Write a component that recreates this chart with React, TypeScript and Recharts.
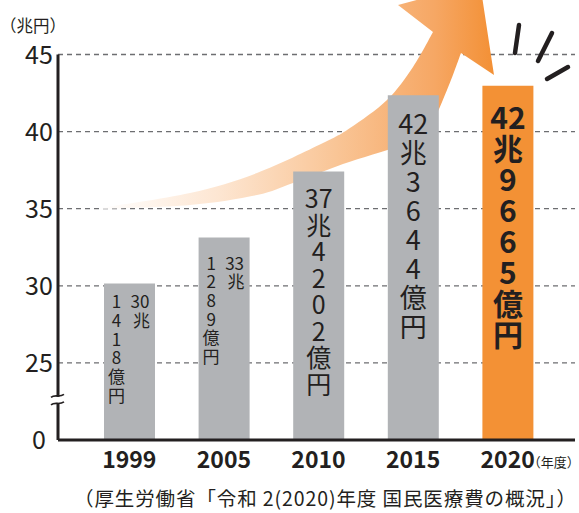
import React from 'react';
import { BarChart, Bar, XAxis, YAxis, CartesianGrid, LabelList, Cell, Customized } from 'recharts';

// ---- data ----
const years = ['1999', '2005', '2010', '2015', '2020'];
const totals = [30.1418, 33.1289, 37.4202, 42.3644, 42.9665]; // 兆円
const trillionParts = ['30', '33', '37', '42', '42'];
const billionParts = ['1418', '1289', '4202', '3644', '9665'];
const yTickLabels = [0, 25, 30, 35, 40, 45];

// broken axis: values from 25 upward are drawn shifted down by this amount
const AXIS_SHIFT = 20;
const BREAK_AT = 2.6;

const toPlot = (v: number) => (v === 0 ? 0 : v - AXIS_SHIFT);
const data = years.map((y, i) => ({ year: y, plot: toPlot(totals[i]), idx: i }));
const plotTicks = yTickLabels.map(toPlot);

const W = 579;
const H = 513;
const INK = '#231f20';
const GRAY = '#b1b3b6';
const ORANGE = '#f39135';
const JP = '"Noto Sans CJK JP", "Noto Sans", sans-serif';

const YTick = (props: any) => {
  const { x, y, payload } = props;
  const v = payload.value;
  if (v === BREAK_AT) {
    return (
      <g>
        <rect x={x - 6} y={y - 3} width={12} height={6} fill="#fff" />
        <path d={`M ${x - 7} ${y - 2.5} C ${x - 3} ${y - 6}, ${x + 1} ${y - 2}, ${x + 6} ${y - 5.5}`} stroke={INK} strokeWidth={1.6} fill="none" />
        <path d={`M ${x - 7} ${y + 5} C ${x - 3} ${y + 1.5}, ${x + 1} ${y + 5.5}, ${x + 6} ${y + 2}`} stroke={INK} strokeWidth={1.6} fill="none" />
      </g>
    );
  }
  const label = v === 0 ? '0' : String(v + AXIS_SHIFT);
  return (
    <text x={x - 19} y={y + 9} textAnchor="middle" fontSize={25} fill={INK} fontFamily={JP}>
      {label}
    </text>
  );
};

const XTick = (props: any) => {
  const { x, y, payload } = props;
  const isLast = payload.value === years[years.length - 1];
  return (
    <g>
      <text x={x} y={y + 28} textAnchor="middle" fontSize={23} fontWeight={700} fill={INK} fontFamily={JP}>
        {payload.value}
      </text>
      {isLast && (
        <text x={x + 20} y={y + 27} textAnchor="start" fontSize={13} fill={INK} fontFamily={JP}>
          （年度）
        </text>
      )}
    </g>
  );
};

const Column = ({ x, y, chars, pitch }: { x: number; y: number; chars: string[]; pitch: number }) => (
  <text x={x} y={y} textAnchor="middle" dominantBaseline="central">
    {chars.map((c, k) => (
      <tspan key={k} x={x} y={y + k * pitch}>
        {c}
      </tspan>
    ))}
  </text>
);

const BarText = (props: any) => {
  const { x, y, width, index } = props;
  const i = typeof index === 'number' ? index : Number(props.value);
  const cx = x + width / 2;
  const tr = trillionParts[i];
  const bl = billionParts[i].split('');
  if (i < 2) {
    const pitch = 18.7;
    const first = y + (i === 0 ? 16.5 : 24);
    return (
      <g fontFamily={JP} fontSize={17} fill={INK}>
        <Column x={cx - 13} y={first} chars={[...bl, '億', '円']} pitch={pitch} />
        <text x={cx + 11} y={first} textAnchor="middle" dominantBaseline="central">
          <tspan x={cx + 10.5} y={first}>{tr}</tspan>
          <tspan x={cx + 12} y={first + pitch}>兆</tspan>
        </text>
      </g>
    );
  }
  const cfg =
    i === 2 ? { fs: 25, pitch: 26.5, off: 26, fw: 400 } :
    i === 3 ? { fs: 27, pitch: 29, off: 26.5, fw: 400 } :
    { fs: 30, pitch: 31, off: 30, fw: 700 };
  return (
    <g fontFamily={JP} fontSize={cfg.fs} fontWeight={cfg.fw} fill={INK}>
      <Column x={cx} y={y + cfg.off} chars={[tr, '兆', ...bl, '億', '円']} pitch={cfg.pitch} />
    </g>
  );
};

// smooth path through points (Catmull-Rom -> Bezier)
const smooth = (pts: number[][]) => {
  let d = '';
  for (let k = 0; k < pts.length - 1; k++) {
    const p0 = pts[k - 1] || pts[k];
    const p1 = pts[k];
    const p2 = pts[k + 1];
    const p3 = pts[k + 2] || p2;
    const c1 = [p1[0] + (p2[0] - p0[0]) / 6, p1[1] + (p2[1] - p0[1]) / 6];
    const c2 = [p2[0] - (p3[0] - p1[0]) / 6, p2[1] - (p3[1] - p1[1]) / 6];
    d += ` C ${c1[0]} ${c1[1]}, ${c2[0]} ${c2[1]}, ${p2[0]} ${p2[1]}`;
  }
  return d;
};

const upperEdge = [[100, 208], [190, 193], [257, 173], [323, 143], [350, 128], [387, 100], [413, 67], [433, 32]];
const lowerEdge = [[461, 53], [447, 90], [430, 124], [400, 145], [343, 164], [293, 183], [257, 195], [190, 205], [100, 209]];

const Arrow = () => {
  const d =
    `M ${upperEdge[0][0]} ${upperEdge[0][1]}` +
    smooth(upperEdge) +
    ' L 398 5 L 480 -17 L 494 75 L 461 53' +
    smooth(lowerEdge) +
    ' Z';
  return (
    <g>
      <defs>
        <linearGradient id="arrowGrad" gradientUnits="userSpaceOnUse" x1={100} y1={0} x2={494} y2={0}>
          <stop offset="0" stopColor="#ffffff" />
          <stop offset="0.3" stopColor="#fde6d2" />
          <stop offset="0.6" stopColor="#f9c596" />
          <stop offset="0.85" stopColor="#f6a764" />
          <stop offset="1" stopColor="#f39035" />
        </linearGradient>
      </defs>
      <path d={d} fill="url(#arrowGrad)" />
      <g stroke={INK} strokeWidth={4.5} strokeLinecap="round">
        <line x1={519} y1={25} x2={515} y2={53} />
        <line x1={552} y1={33} x2={538} y2={61} />
        <line x1={568} y1={67} x2={547} y2={79} />
      </g>
    </g>
  );
};

export default function App() {
  return (
    <div style={{ position: 'absolute', left: 0, top: 0, width: W, height: H, background: '#fff' }}>
      <BarChart
        width={W}
        height={H}
        data={data}
        margin={{ top: 54.5, right: 4, bottom: 33, left: 0 }}
        barCategoryGap={0}
      >
        <CartesianGrid
          vertical={false}
          horizontalValues={plotTicks}
          stroke="#6d6e71"
          strokeWidth={1.3}
          strokeDasharray="5 4"
        />
        <Customized component={<Arrow />} />
        <XAxis
          dataKey="year"
          height={40}
          padding={{ left: 24, right: 20 }}
          axisLine={{ stroke: INK, strokeWidth: 3 }}
          tickLine={false}
          tickSize={0}
          tickMargin={0}
          tick={<XTick />}
          interval={0}
        />
        <YAxis
          type="number"
          width={58}
          domain={[0, 25]}
          ticks={[...plotTicks, BREAK_AT]}
          interval={0}
          axisLine={{ stroke: INK, strokeWidth: 3 }}
          tickLine={false}
          tickSize={0}
          tickMargin={0}
          tick={<YTick />}
          allowDataOverflow
        />
        <Bar dataKey="plot" barSize={51} isAnimationActive={false}>
          {data.map((d, i) => (
            <Cell key={d.year} fill={i === data.length - 1 ? ORANGE : GRAY} />
          ))}
          <LabelList dataKey="idx" content={<BarText />} />
        </Bar>
      </BarChart>
      <div
        style={{
          position: 'absolute', left: 0, top: 13, fontFamily: JP, fontSize: 16.5, color: INK, lineHeight: '24px', whiteSpace: 'nowrap',
        }}
      >
        （兆円）
      </div>
      <div
        style={{
          position: 'absolute', left: 74, top: 484, fontFamily: JP, fontSize: 19.5, letterSpacing: 0.9, color: INK, lineHeight: '28px', whiteSpace: 'nowrap',
        }}
      >
        （厚生労働省「令和 2(2020)年度 国民医療費の概況」）
      </div>
    </div>
  );
}
